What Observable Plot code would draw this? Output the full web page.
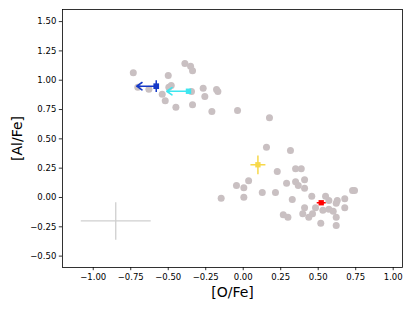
<!DOCTYPE html>
<html>
<head>
<meta charset="utf-8">
<script src="https://cdn.jsdelivr.net/npm/d3@7"></script>
<script src="https://cdn.jsdelivr.net/npm/@observablehq/plot@0.6"></script>
<style>
  html, body { margin: 0; padding: 0; background: white; }
</style>
</head>
<body>
<div id="chart"></div>
<script>
// Grey sample stars: [O/Fe] and [Al/Fe]
const greyOFe = [
  -0.733, -0.703, -0.629, -0.50, -0.389, -0.351, -0.338, -0.496, -0.48, -0.54,
  -0.52, -0.449, -0.345, -0.338, -0.267, -0.256, -0.178, -0.169, -0.209, -0.038,
  0.175, 0.155, 0.315, 0.227, 0.349, 0.387, 0.036, -0.045, 0.004, -0.147,
  0.004, 0.127, 0.215, 0.289, 0.349, 0.367, 0.409, 0.409, 0.327, 0.457,
  0.549, 0.571, 0.627, 0.62, 0.677, 0.729, 0.742, 0.409, 0.482, 0.531,
  0.571, 0.60, 0.677, 0.397, 0.437, 0.462, 0.267, 0.298, 0.62, 0.517, 0.62
];
const greyAlFe = [
  1.063, 0.94, 0.923, 1.04, 1.142, 1.12, 1.08, 0.94, 0.955, 0.881,
  0.824, 0.77, 0.904, 0.79, 0.932, 0.861, 0.921, 0.904, 0.733, 0.742,
  0.68, 0.429, 0.40, 0.222, 0.245, 0.245, 0.142, 0.102, 0.083, -0.006,
  0.003, 0.043, 0.043, 0.122, 0.134, 0.102, 0.151, 0.079, -0.017, 0.011,
  0.011, -0.026, -0.026, -0.049, -0.011, 0.06, 0.06, -0.088, -0.088, -0.108,
  -0.10, -0.117, -0.088, -0.139, -0.168, -0.139, -0.148, -0.168, -0.168, -0.219, -0.239
];

// Highlighted objects
const hlNames = ["blue", "cyan", "yellow", "red"];
const hlOFe = [-0.58, -0.365, 0.098, 0.52];
const hlAlFe = [0.949, 0.906, 0.279, -0.045];
const hlOErr = [0, 0, 0.05, 0.03];
const hlAlErr = [0.05, 0, 0.08, 0.01];
const hlColors = ["#1438c8", "#3ee6ef", "#f7d84a", "#ff0000"];
const hlSize = [4, 3.6, 3.5, 3.5];
// Upper limits on [O/Fe] (arrow tips)
const limitOFe = [-0.71, -0.51, null, null];

// Representative error cross
const repOFe = [-0.85];
const repAlFe = [-0.20];
const repOErr = [0.233];
const repAlErr = [0.16];

const xTicks = [-1.0, -0.75, -0.5, -0.25, 0, 0.25, 0.5, 0.75, 1.0];
const yTicks = [-0.5, -0.25, 0, 0.25, 0.5, 0.75, 1.0, 1.25, 1.5];
const xLabel = "[O/Fe]";
const yLabel = "[Al/Fe]";

const grey = greyOFe.map((x, i) => ({x, y: greyAlFe[i]}));
const hl = hlNames.map((n, i) => ({name: n, x: hlOFe[i], y: hlAlFe[i], xe: hlOErr[i], ye: hlAlErr[i], color: hlColors[i], r: hlSize[i], lim: limitOFe[i]}));
const rep = repOFe.map((x, i) => ({x, y: repAlFe[i], xe: repOErr[i], ye: repAlErr[i]}));
const arrows = hl.filter(d => d.lim != null);
const hErr = hl.filter(d => d.xe > 0);
const vErr = hl.filter(d => d.ye > 0);

const fmt = d3.format(".2f");

const chart = Plot.plot({
  width: 415,
  height: 311,
  marginLeft: 62,
  marginRight: 13,
  marginTop: 9,
  marginBottom: 44,
  x: {domain: [-1.205, 1.062]},
  y: {domain: [-0.597, 1.603]},
  style: {fontFamily: "DejaVu Sans", fontSize: "8.5px", color: "black", background: "white", overflow: "visible"},
  marks: [
    Plot.axisX({ticks: xTicks, tickFormat: fmt, tickSize: 3.2, tickPadding: 3, label: null, strokeWidth: 0.8}),
    Plot.axisY({ticks: yTicks, tickFormat: fmt, tickSize: 3.2, tickPadding: 3, label: null, strokeWidth: 0.8}),
    // representative error bars
    Plot.link(rep, {x1: d => d.x - d.xe, x2: d => d.x + d.xe, y1: "y", y2: "y", stroke: "#cfcfcf", strokeWidth: 1.3}),
    Plot.link(rep, {x1: "x", x2: "x", y1: d => d.y - d.ye, y2: d => d.y + d.ye, stroke: "#cfcfcf", strokeWidth: 1.3}),
    // sample
    Plot.dot(grey, {x: "x", y: "y", r: 3.5, fill: "#c9c0c2", stroke: null}),
    // highlighted objects
    Plot.arrow(arrows, {x1: "x", y1: "y", x2: "lim", y2: "y", stroke: d => d.color, strokeWidth: 1.6, headLength: 6, headAngle: 70}),
    Plot.link(hErr, {x1: d => d.x - d.xe, x2: d => d.x + d.xe, y1: "y", y2: "y", stroke: d => d.color, strokeWidth: 1.5}),
    Plot.link(vErr, {x1: "x", x2: "x", y1: d => d.y - d.ye, y2: d => d.y + d.ye, stroke: d => d.color, strokeWidth: 1.5}),
    Plot.dot(hl, {x: "x", y: "y", r: d => d.r, symbol: "square", fill: d => d.color, stroke: null}),
    Plot.frame({stroke: "black", strokeWidth: 0.8}),
    // axis titles
    Plot.text([xLabel], {text: d => d, frameAnchor: "bottom", dy: 25, fontSize: 14, textAnchor: "middle", lineAnchor: "middle", fill: "black"}),
    Plot.text([yLabel], {text: d => d, frameAnchor: "left", dx: -45, rotate: -90, fontSize: 14, textAnchor: "middle", lineAnchor: "middle", fill: "black"})
  ]
});
document.getElementById("chart").appendChild(chart);
</script>
</body>
</html>
